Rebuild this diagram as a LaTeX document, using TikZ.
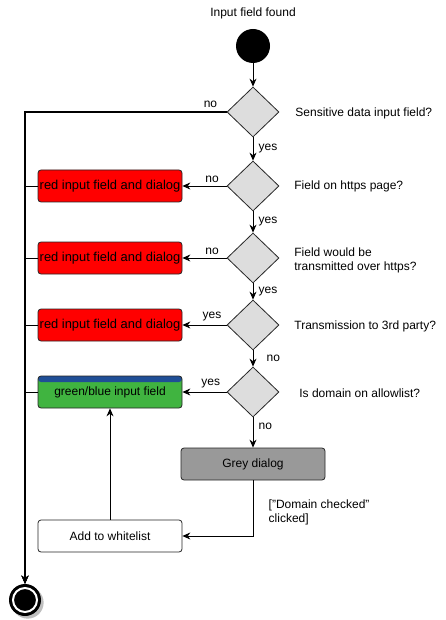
\documentclass[tikz,border=0pt]{standalone}
\usepackage{fontspec}
\setmainfont{Liberation Sans}
\usetikzlibrary{arrows.meta}
\usetikzlibrary{shapes.geometric}
\usetikzlibrary{shadows}
\definecolor{fieldgreen}{RGB}{64,180,64}
\definecolor{fieldblue}{RGB}{31,78,150}
\definecolor{dialoggrey}{RGB}{153,153,153}
\definecolor{choicegrey}{RGB}{221,221,221}

\begin{document}
\begin{tikzpicture}[>={Stealth[length=8pt, width=7pt]}, x=1pt, y=-1pt,
  font=\fontsize{12}{14}\selectfont,
  every path/.style={line width=0.8pt},
  decision/.style={diamond, draw=black!85, fill=choicegrey, minimum width=52pt, minimum height=50pt, inner sep=0pt},
  basebox/.style={rectangle, rounded corners=3pt, draw=black!85, minimum width=144pt, minimum height=32pt, inner sep=0pt},
  redbox/.style={basebox, fill=red, font=\fontsize{12.9}{15}\selectfont},
  greenbox/.style={basebox, fill=fieldgreen,
    path picture={\fill[fieldblue] (path picture bounding box.north west) rectangle ([yshift=-6pt]path picture bounding box.north east);}},
  greybox/.style={basebox, fill=dialoggrey},
  plainbox/.style={basebox, fill=white},
  cond/.style={anchor=west, align=left, inner sep=0pt}
]
  \useasboundingbox (0,0) rectangle (445,620);

  % start and end
  \node (title) at (253,13) {Input field found};
  \node[circle, fill=black, minimum size=34pt, inner sep=0pt] (start) at (253,46) {};
  \node[circle, fill=black, minimum size=32pt, inner sep=0pt, drop shadow] (stop) at (25,600) {};
  \draw[white, line width=2pt] (stop.center) circle (12);

  % decisions
  \node[decision] (q1) at (253,112) {};
  \node[decision] (q2) at (253,186) {};
  \node[decision] (q3) at (253,258) {};
  \node[decision] (q4) at (253,325) {};
  \node[decision] (q5) at (253,392) {};

  \node[cond] (c1) at (295,113) {Sensitive data input field?};
  \node[cond] (c2) at (294,186) {Field on https page?};
  \node[cond] (c3) at (294,260) {Field would be\\transmitted over https?};
  \node[cond] (c4) at (294,326) {Transmission to 3rd party?};
  \node[cond] (c5) at (299,393) {Is domain on allowlist?};

  % boxes
  \node[redbox] (red1) at (110,186) {red input field and dialog};
  \node[redbox] (red2) at (110,258) {red input field and dialog};
  \node[redbox] (red3) at (110,325) {red input field and dialog};
  \node[greenbox] (green) at (110,392) {green/blue input field};
  \node[greybox] (grey) at (253,464) {Grey dialog};
  \node[plainbox] (add) at (110,536) {Add to whitelist};

  % flow down the middle
  \draw[->] (start) -- (q1);
  \draw[->] (q1) -- node[right, xshift=2pt]{yes} (q2);
  \draw[->] (q2) -- node[right, xshift=2pt]{yes} (q3);
  \draw[->] (q3) -- node[right, xshift=2pt]{yes} (q4);
  \draw[->] (q4) -- node[right, xshift=10pt]{no} (q5);
  \draw[->] (q5) -- node[right, pos=0.3, xshift=2pt]{no} (grey);

  % branches to the left
  \draw[->] (q2) -- node[above, pos=0.33]{no} (red1);
  \draw[->] (q3) -- node[above, pos=0.33]{no} (red2);
  \draw[->] (q4) -- node[above, pos=0.33]{yes} (red3);
  \draw[->] (q5) -- node[above, pos=0.36]{yes} (green);

  % everything ends below
  \draw[->, line width=1.2pt] (q1.west) -| node[above, pos=0.04]{no} (stop);
  \foreach \leaf in {red1, red2, red3, green}
    \draw[->] (\leaf.west) -| (stop);

  % whitelist loop
  \draw[->] (grey.south) |- node[right, pos=0.29, xshift=12pt, align=left]{["Domain checked"\\clicked]} (add.east);
  \draw[->] (add.north) -- (green.south);
\end{tikzpicture}
\end{document}
